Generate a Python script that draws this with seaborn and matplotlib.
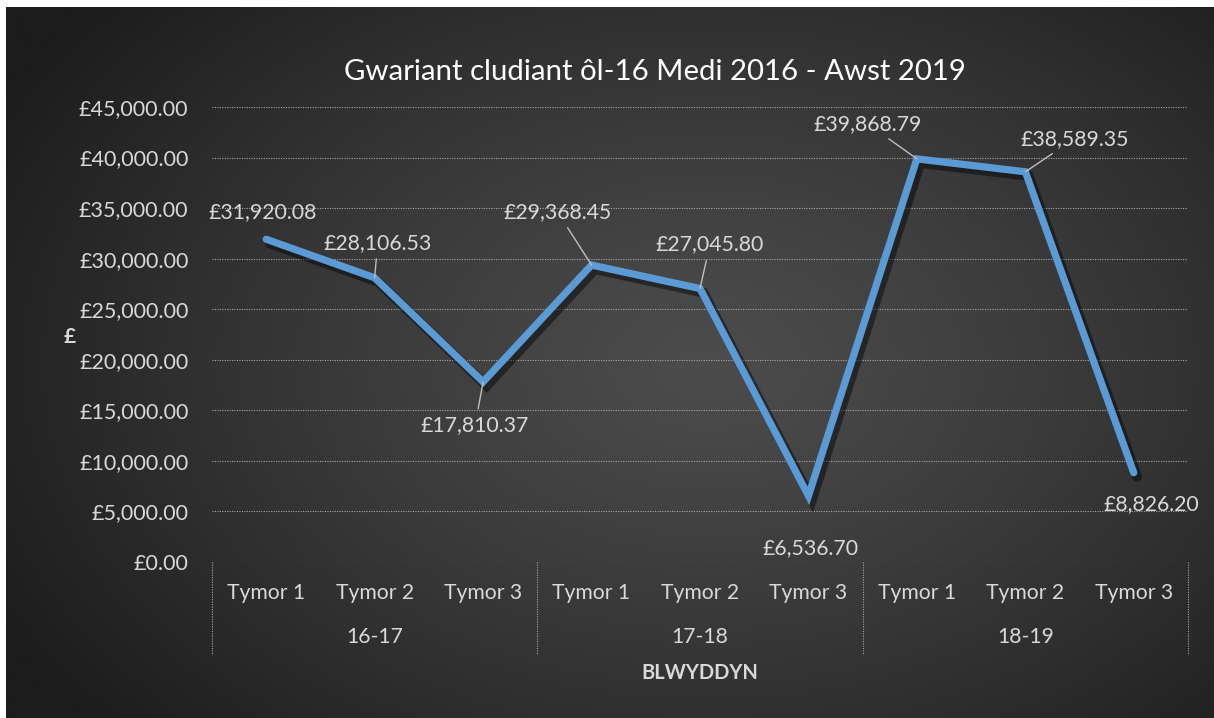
import numpy as np
import pandas as pd
import matplotlib
matplotlib.use("Agg")
import matplotlib.pyplot as plt
import matplotlib.patheffects as pe
from matplotlib.transforms import blended_transform_factory
import seaborn as sns

# ---- data ----
years = ["16-17", "17-18", "18-19"]
terms = ["Tymor 1", "Tymor 2", "Tymor 3"]
spend = [31920.08, 28106.53, 17810.37,
         29368.45, 27045.80, 6536.70,
         39868.79, 38589.35, 8826.20]
title = "Gwariant cludiant ôl-16 Medi 2016 - Awst 2019"
y_ticks = [0, 5000, 10000, 15000, 20000, 25000, 30000, 35000, 40000, 45000]
x_title = "BLWYDDYN"
y_title = "£"

# label offsets in pixels (dx, dy up) and whether a leader line is drawn
label_offsets = [(-4, 27), (3, 35), (-8, -43), (-34, 53), (10, 44),
                 (2, -52), (-49, 35), (49, 33), (18, -31)]
leaders = [False, True, True, True, True, False, True, True, False]

df = pd.DataFrame({
    "pos": np.arange(len(spend)),
    "term": [t for _ in years for t in terms],
    "year": [y for y in years for _ in terms],
    "spend": spend,
})

sns.set_style("dark")
plt.rcParams["font.family"] = ["Lato", "DejaVu Sans"]

W, H = 1214, 718
fig = plt.figure(figsize=(W / 100, H / 100), dpi=100)
fig.patch.set_facecolor("white")

# radial gradient background
bg = fig.add_axes([6 / W, 0, 1 - 6 / W, 1 - 7 / H])
bg.set_axis_off()
yy, xx = np.mgrid[0:300, 0:500]
cx, cy = 290, 150
r = np.sqrt(((xx - cx) / 330) ** 2 + ((yy - cy) / 230) ** 2)
r = np.clip(r, 0, 1)
c_in, c_out = 0x4c / 255, 0x1d / 255
g = c_in + (c_out - c_in) * r ** 1.2
bg.imshow(np.dstack([g, g, g]), aspect="auto", extent=[0, 1, 0, 1], zorder=0)
bg.set_xlim(0, 1)
bg.set_ylim(0, 1)

left, right = 212 / W, 1188 / W
bottom, top = 1 - 562 / H, 1 - 107 / H
ax = fig.add_axes([left, bottom, right - left, top - bottom])
ax.set_facecolor("none")

sns.lineplot(data=df, x="pos", y="spend", ax=ax, color="#5B9BD5", lw=5.2,
             solid_joinstyle="miter", solid_capstyle="round", zorder=5,
             path_effects=[pe.SimpleLineShadow(offset=(2.5, -3), shadow_color="black", alpha=0.45, linewidth=7),
                           pe.Normal()])

ax.set_xlim(-0.5, len(spend) - 0.5)
ax.set_ylim(0, 45000)
ax.set_yticks(y_ticks)
ax.set_yticklabels([f"£{v:,.2f}" for v in y_ticks], color="#d9d9d9", fontsize=15.5)
ax.tick_params(axis="y", length=0, pad=17)
ax.set_xticks(df["pos"])
ax.set_xticklabels(df["term"], color="#d9d9d9", fontsize=15.2)
ax.tick_params(axis="x", length=0, pad=15)
for s in ax.spines.values():
    s.set_visible(False)
ax.grid(False)
for v in y_ticks:
    ax.axhline(v, color="#a6a6a6", lw=0.8, ls=(0, (1, 1.2)), zorder=1)

# category separators below the axis
trans = blended_transform_factory(ax.transData, ax.transAxes)
for k in range(len(years) + 1):
    xb = k * len(terms) - 0.5
    ax.plot([xb, xb], [0, -0.204], transform=trans, color="#a6a6a6", lw=0.8,
            ls=(0, (1, 1.2)), clip_on=False)
for k, yl in enumerate(years):
    xc = k * len(terms) + (len(terms) - 1) / 2
    ax.text(xc, -0.165, yl, transform=trans, ha="center", va="center",
            color="#d9d9d9", fontsize=15.2)

ax.set_xlabel("")
ax.set_ylabel("")
fig.text(700 / W, 1 - 673 / H, x_title, ha="center", va="center",
         color="#d9d9d9", fontsize=14.5, fontweight="bold")
fig.text(70 / W, 1 - 337 / H, y_title, ha="center", va="center",
         color="#d9d9d9", fontsize=15, fontweight="bold")
fig.text(655 / W, 1 - 72 / H, title, ha="center", va="center",
         color="white", fontsize=21.2)

# data labels
for i, v in enumerate(spend):
    dx, dy = label_offsets[i]
    kw = {}
    if leaders[i]:
        kw["arrowprops"] = dict(arrowstyle="-", color="#bfbfbf", lw=1.0,
                                shrinkA=2, shrinkB=0)
    ax.annotate(f"£{v:,.2f}", xy=(i, v), xytext=(dx, dy),
                textcoords="offset pixels", ha="center", va="center",
                color="#d9d9d9", fontsize=15.3, zorder=6, **kw)

fig.savefig("out.png", dpi=100, facecolor=fig.get_facecolor())
